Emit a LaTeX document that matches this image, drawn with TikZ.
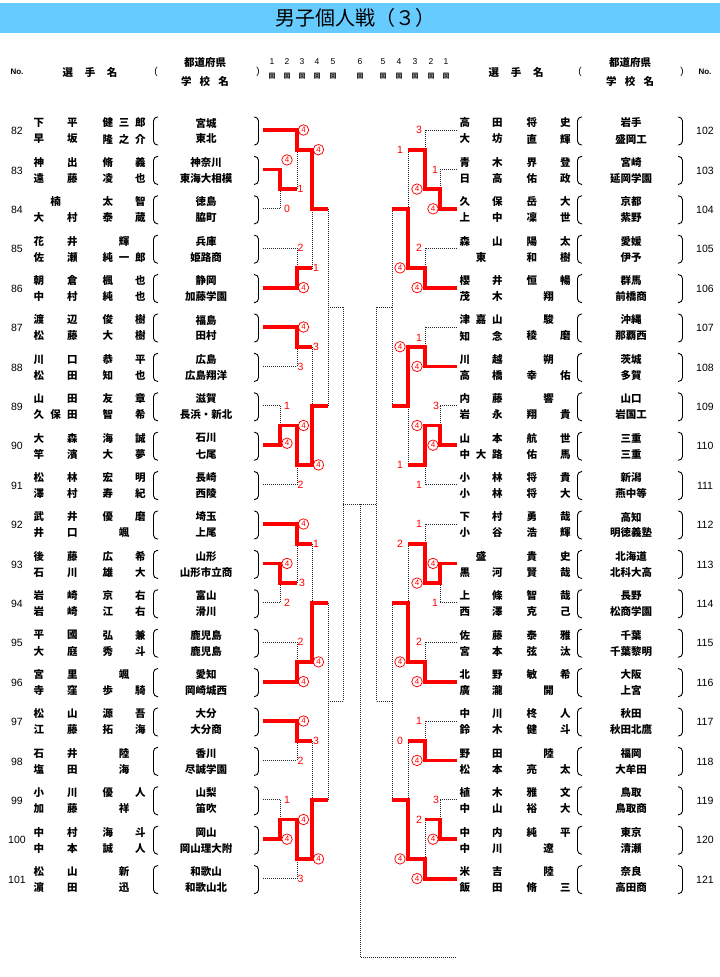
\documentclass[tikz,border=0pt]{standalone}
\usepackage{fontspec}
\setmainfont{Liberation Sans}
\newfontfamily\jp{Noto Sans CJK JP}
\definecolor{titleblue}{RGB}{102,204,255}
\newcount\labcnt
\tikzset{
  rl/.style={draw=red, line width=3.8pt, line join=miter},
  dl/.style={draw=black!85, line width=0.8pt, dash pattern=on 0.9pt off 1.1pt},
  nm/.style={font=\jp\bfseries\fontsize{10.5}{12}\selectfont, inner sep=0pt},
  numf/.style={font=\fontsize{10.5}{12}\selectfont, inner sep=0pt},
  scd/.style={text=red, font=\fontsize{10.5}{11}\selectfont, inner sep=0pt},
  scw/.style={circle, draw=red, line width=0.75pt, text=red, inner sep=0pt,
    minimum size=10.5pt, font=\fontsize{8}{8}\selectfont},
  paren/.style={draw=black, line width=0.9pt, rounded corners=4pt},
  hdr/.style={font=\fontsize{10}{11}\selectfont, inner sep=0pt},
  rn/.style={font=\fontsize{8.5}{9}\selectfont, inner sep=0pt},
  rk/.style={font=\jp\bfseries\fontsize{6.5}{7}\selectfont, inner sep=0pt},
  hno/.style={font=\fontsize{8}{9}\selectfont\bfseries, inner sep=0pt}
}
\newcommand\Sd[3]{\global\advance\labcnt by 1\relax\node[scd] (lb\the\labcnt) at (#1,#2) {#3};}
\newcommand\Sw[2]{\global\advance\labcnt by 1\relax\node[scw] (lb\the\labcnt) at (#1,#2) {4};}
\newcommand\Lent[8]{%
 \pgfmathsetmacro\cy{131+39.4*#1}%
 \node[numf] (no#2) at (17,\cy) {#2};
 \node[nm,anchor=west] (sa#2) at (33.5,{\cy-8}) {\hbox to 44pt{#3}};
 \node[nm,anchor=west] (ga#2) at (102.5,{\cy-8}) {\hbox to 43pt{#4}};
 \node[nm,anchor=west] (sb#2) at (33.5,{\cy+8}) {\hbox to 44pt{#5}};
 \node[nm,anchor=west] (gb#2) at (102.5,{\cy+8}) {\hbox to 43pt{#6}};
 \node[nm] (pr#2) at (206,{\cy-8}) {#7};
 \node[nm] (sc#2) at (206,{\cy+8}) {#8};
 \draw[paren] (158,{\cy-14}) -- (153.5,{\cy-14}) -- (153.5,{\cy+14}) -- (158,{\cy+14});
 \draw[paren] (254,{\cy-14}) -- (258.5,{\cy-14}) -- (258.5,{\cy+14}) -- (254,{\cy+14});
}
\newcommand\Rent[8]{%
 \pgfmathsetmacro\cy{131+39.4*#1}%
 \node[numf] (no#2) at (705,\cy) {#2};
 \node[nm,anchor=west] (sa#2) at (459.5,{\cy-8}) {\hbox to 43pt{#3}};
 \node[nm,anchor=west] (ga#2) at (526.5,{\cy-8}) {\hbox to 44pt{#4}};
 \node[nm,anchor=west] (sb#2) at (459.5,{\cy+8}) {\hbox to 43pt{#5}};
 \node[nm,anchor=west] (gb#2) at (526.5,{\cy+8}) {\hbox to 44pt{#6}};
 \node[nm] (pr#2) at (631,{\cy-8}) {#7};
 \node[nm] (sc#2) at (631,{\cy+8}) {#8};
 \draw[paren] (582,{\cy-14}) -- (577.5,{\cy-14}) -- (577.5,{\cy+14}) -- (582,{\cy+14});
 \draw[paren] (678,{\cy-14}) -- (682.5,{\cy-14}) -- (682.5,{\cy+14}) -- (678,{\cy+14});
}
\begin{document}
\begin{tikzpicture}[x=1pt,y=-1pt]
\fill[white] (0,0) rectangle (720,977);
\path[use as bounding box] (0,0) rectangle (720,977);
% title
\fill[titleblue] (0,3) rectangle (720,33);
\node[font=\jp\fontsize{20}{22}\selectfont, inner sep=0pt] (ttl) at (355,18) {男子個人戦（３）};
% header
\node[hno] (hnoL) at (17,72) {No.};
\node[nm] (hselL) at (90,72) {\hbox to 55pt{選\hfill 手\hfill 名}};
\node[hdr] (hlpL) at (156,72) {(};
\node[nm] (hprefL) at (205,63) {都道府県};
\node[nm] (hschL) at (205,81) {\hbox to 48pt{学\hfill 校\hfill 名}};
\node[hdr] (hrpL) at (258,72) {)};
\node[nm] (hselR) at (516,72) {\hbox to 55pt{選\hfill 手\hfill 名}};
\node[hdr] (hlpR) at (580,72) {(};
\node[nm] (hprefR) at (630,63) {都道府県};
\node[nm] (hschR) at (630,81) {\hbox to 48pt{学\hfill 校\hfill 名}};
\node[hdr] (hrpR) at (682,72) {)};
\node[hno] (hnoR) at (705,72) {No.};
\foreach \x/\n [count=\k] in {272/1,287/2,302/3,317/4,333/5,360/6,383/5,399/4,415/3,431/2,446/1}{
  \node[rn] (rn\k) at (\x,62) {\n};
  \node[rk] (rk\k) at (\x,76) {回};
}
% left entries
\Lent{0}{82}{下\hfill 平}{健\hfill 三\hfill 郎}{早\hfill 坂}{隆\hfill 之\hfill 介}{宮城}{東北}
\Lent{1}{83}{神\hfill 出}{脩\hfill 義}{遠\hfill 藤}{凌\hfill 也}{神奈川}{東海大相模}
\Lent{2}{84}{\hfill 楠\hfill}{太\hfill 智}{大\hfill 村}{泰\hfill 蔵}{徳島}{脇町}
\Lent{3}{85}{花\hfill 井}{\hfill 輝\hfill}{佐\hfill 瀬}{純\hfill 一\hfill 郎}{兵庫}{姫路商}
\Lent{4}{86}{朝\hfill 倉}{楓\hfill 也}{中\hfill 村}{純\hfill 也}{静岡}{加藤学園}
\Lent{5}{87}{渡\hfill 辺}{俊\hfill 樹}{松\hfill 藤}{大\hfill 樹}{福島}{田村}
\Lent{6}{88}{川\hfill 口}{恭\hfill 平}{松\hfill 田}{知\hfill 也}{広島}{広島翔洋}
\Lent{7}{89}{山\hfill 田}{友\hfill 章}{久\hfill 保\hfill 田}{智\hfill 希}{滋賀}{長浜・新北}
\Lent{8}{90}{大\hfill 森}{海\hfill 誠}{竿\hfill 濱}{大\hfill 夢}{石川}{七尾}
\Lent{9}{91}{松\hfill 林}{宏\hfill 明}{澤\hfill 村}{寿\hfill 紀}{長崎}{西陵}
\Lent{10}{92}{武\hfill 井}{優\hfill 磨}{井\hfill 口}{\hfill 颯\hfill}{埼玉}{上尾}
\Lent{11}{93}{後\hfill 藤}{広\hfill 希}{石\hfill 川}{雄\hfill 大}{山形}{山形市立商}
\Lent{12}{94}{岩\hfill 崎}{京\hfill 右}{岩\hfill 崎}{江\hfill 右}{富山}{滑川}
\Lent{13}{95}{平\hfill 國}{弘\hfill 兼}{大\hfill 庭}{秀\hfill 斗}{鹿児島}{鹿児島}
\Lent{14}{96}{宮\hfill 里}{\hfill 颯\hfill}{寺\hfill 窪}{歩\hfill 騎}{愛知}{岡崎城西}
\Lent{15}{97}{松\hfill 山}{源\hfill 吾}{江\hfill 藤}{拓\hfill 海}{大分}{大分商}
\Lent{16}{98}{石\hfill 井}{\hfill 陸\hfill}{塩\hfill 田}{\hfill 海\hfill}{香川}{尽誠学園}
\Lent{17}{99}{小\hfill 川}{優\hfill 人}{加\hfill 藤}{\hfill 祥\hfill}{山梨}{笛吹}
\Lent{18}{100}{中\hfill 村}{海\hfill 斗}{中\hfill 本}{誠\hfill 人}{岡山}{岡山理大附}
\Lent{19}{101}{松\hfill 山}{\hfill 新\hfill}{濵\hfill 田}{\hfill 迅\hfill}{和歌山}{和歌山北}
% right entries
\Rent{0}{102}{高\hfill 田}{将\hfill 史}{大\hfill 坊}{直\hfill 輝}{岩手}{盛岡工}
\Rent{1}{103}{青\hfill 木}{界\hfill 登}{日\hfill 高}{佑\hfill 政}{宮崎}{延岡学園}
\Rent{2}{104}{久\hfill 保}{岳\hfill 大}{上\hfill 中}{凜\hfill 世}{京都}{紫野}
\Rent{3}{105}{森\hfill 山}{陽\hfill 太}{\hfill 東\hfill}{和\hfill 樹}{愛媛}{伊予}
\Rent{4}{106}{櫻\hfill 井}{恒\hfill 暢}{茂\hfill 木}{\hfill 翔\hfill}{群馬}{前橋商}
\Rent{5}{107}{津\hfill 嘉\hfill 山}{\hfill 駿\hfill}{知\hfill 念}{稜\hfill 磨}{沖縄}{那覇西}
\Rent{6}{108}{川\hfill 越}{\hfill 朔\hfill}{高\hfill 橋}{幸\hfill 佑}{茨城}{多賀}
\Rent{7}{109}{内\hfill 藤}{\hfill 響\hfill}{岩\hfill 永}{翔\hfill 貴}{山口}{岩国工}
\Rent{8}{110}{山\hfill 本}{航\hfill 世}{中\hfill 大\hfill 路}{佑\hfill 馬}{三重}{三重}
\Rent{9}{111}{小\hfill 林}{将\hfill 貴}{小\hfill 林}{将\hfill 大}{新潟}{燕中等}
\Rent{10}{112}{下\hfill 村}{勇\hfill 哉}{小\hfill 谷}{浩\hfill 輝}{高知}{明徳義塾}
\Rent{11}{113}{\hfill 盛\hfill}{貴\hfill 史}{黒\hfill 河}{賢\hfill 哉}{北海道}{北科大高}
\Rent{12}{114}{上\hfill 條}{智\hfill 哉}{西\hfill 澤}{克\hfill 己}{長野}{松商学園}
\Rent{13}{115}{佐\hfill 藤}{泰\hfill 雅}{宮\hfill 本}{弦\hfill 汰}{千葉}{千葉黎明}
\Rent{14}{116}{北\hfill 野}{敏\hfill 希}{廣\hfill 瀧}{\hfill 開\hfill}{大阪}{上宮}
\Rent{15}{117}{中\hfill 川}{柊\hfill 人}{鈴\hfill 木}{健\hfill 斗}{秋田}{秋田北鷹}
\Rent{16}{118}{野\hfill 田}{\hfill 陸\hfill}{松\hfill 本}{亮\hfill 太}{福岡}{大牟田}
\Rent{17}{119}{植\hfill 木}{雅\hfill 文}{中\hfill 山}{裕\hfill 大}{鳥取}{鳥取商}
\Rent{18}{120}{中\hfill 内}{純\hfill 平}{中\hfill 川}{\hfill 遼\hfill}{東京}{清瀬}
\Rent{19}{121}{米\hfill 吉}{\hfill 陸\hfill}{飯\hfill 田}{脩\hfill 三}{奈良}{高田商}
% bracket
\begin{scope}[y=-39.4pt, yshift=-130pt]
 \foreach \xa/\xb/\xc/\xd/\xe/\xf in {263/280/297/312/328/343, 457/440/425/408/392/376}{
   \foreach \i in {1,2,7,8,11,12,17,18} \draw[dl] (\xa,\i) -- (\xb,\i);
   \foreach \i in {0,3,4,5,6,9,10,13,14,15,16,19} \draw[dl] (\xa,\i) -- (\xc,\i);
   \foreach \a/\b/\m in {1/2/1.5,7/8/7.5,11/12/11.5,17/18/17.5}
     \draw[dl] (\xb,\a) -- (\xb,\b) (\xb,\m) -- (\xc,\m);
   \foreach \a/\b/\m in {0/1.5/0.5,3/4/3.5,5/6/5.5,7.5/9/8.5,10/11.5/10.5,13/14/13.5,15/16/15.5,17.5/19/18.5}
     \draw[dl] (\xc,\a) -- (\xc,\b) (\xc,\m) -- (\xd,\m);
   \foreach \a/\b/\m in {0.5/3.5/2,5.5/8.5/7,10.5/13.5/12,15.5/18.5/17}
     \draw[dl] (\xd,\a) -- (\xd,\b) (\xd,\m) -- (\xe,\m);
   \foreach \a/\b/\m in {2/7/4.5,12/17/14.5}
     \draw[dl] (\xe,\a) -- (\xe,\b) (\xe,\m) -- (\xf,\m);
   \draw[dl] (\xf,4.5) -- (\xf,14.5) (\xf,9.5) -- (360,9.5);
 }
 \draw[dl] (360,9.5) -- (360,21) -- (455,21);
 % red winner paths, left
 \draw[rl] (263,0) -- (297,0) -- (297,0.5) -- (312,0.5) -- (312,2) -- (328,2);
 \draw[rl] (263,1) -- (280,1) -- (280,1.5) -- (297,1.5);
 \draw[rl] (263,4) -- (297,4) -- (297,3.5) -- (312,3.5);
 \draw[rl] (263,5) -- (297,5) -- (297,5.5) -- (312,5.5);
 \draw[rl] (263,8) -- (280,8) -- (280,7.5) -- (297,7.5) -- (297,8.5) -- (312,8.5) -- (312,7) -- (328,7);
 \draw[rl] (263,10) -- (297,10) -- (297,10.5) -- (312,10.5);
 \draw[rl] (263,11) -- (280,11) -- (280,11.5) -- (297,11.5);
 \draw[rl] (263,14) -- (297,14) -- (297,13.5) -- (312,13.5) -- (312,12) -- (328,12);
 \draw[rl] (263,15) -- (297,15) -- (297,15.5) -- (312,15.5);
 \draw[rl] (263,18) -- (280,18) -- (280,17.5) -- (297,17.5) -- (297,18.5) -- (312,18.5) -- (312,17) -- (328,17);
 % red winner paths, right
 \draw[rl] (457,2) -- (440,2) -- (440,1.5) -- (425,1.5) -- (425,0.5) -- (408,0.5);
 \draw[rl] (457,4) -- (425,4) -- (425,3.5) -- (408,3.5) -- (408,2) -- (392,2);
 \draw[rl] (457,6) -- (425,6) -- (425,5.5) -- (408,5.5) -- (408,7) -- (392,7);
 \draw[rl] (457,8) -- (440,8) -- (440,7.5) -- (425,7.5) -- (425,8.5) -- (408,8.5);
 \draw[rl] (457,11) -- (440,11) -- (440,11.5) -- (425,11.5) -- (425,10.5) -- (408,10.5);
 \draw[rl] (457,14) -- (425,14) -- (425,13.5) -- (408,13.5) -- (408,12) -- (392,12);
 \draw[rl] (457,16) -- (425,16) -- (425,15.5) -- (408,15.5);
 \draw[rl] (457,18) -- (440,18) -- (440,17.5) -- (425,17.5);
 \draw[rl] (457,19) -- (425,19) -- (425,18.5) -- (408,18.5) -- (408,17) -- (392,17);
 % scores left R1
 \Sw{287}{0.76} \Sd{287}{2}{0}
 \Sd{287}{7}{1} \Sw{287}{7.95}
 \Sw{287}{11} \Sd{287}{12}{2}
 \Sd{287}{17}{1} \Sw{287}{18}
 % left R2
 \Sw{303.5}{0} \Sd{300.5}{1.5}{1}
 \Sd{300.5}{3}{2} \Sw{303.5}{4}
 \Sw{303.5}{5} \Sd{300.5}{6}{3}
 \Sw{303.5}{7.5} \Sd{300.5}{9}{2}
 \Sw{303.5}{10} \Sd{302}{11.5}{3}
 \Sd{300.5}{13}{2} \Sw{303.5}{14}
 \Sw{303.5}{15} \Sd{300.5}{16}{2}
 \Sw{303.5}{17.5} \Sd{300.5}{19}{3}
 % left R3
 \Sw{318.5}{0.5} \Sd{316}{3.5}{1}
 \Sd{316}{5.5}{3} \Sw{318.5}{8.5}
 \Sd{316}{10.5}{1} \Sw{318.5}{13.5}
 \Sd{316}{15.5}{3} \Sw{318.5}{18.5}
 % right R1
 \Sd{435}{1}{1} \Sw{433}{2}
 \Sd{436}{7}{3} \Sw{433}{8}
 \Sw{433}{11} \Sd{435}{12}{1}
 \Sd{436}{17}{3} \Sw{433}{18}
 % right R2
 \Sd{419}{0}{3} \Sw{417}{1.5}
 \Sd{419}{3}{2} \Sw{417}{4}
 \Sd{419}{5.28}{1} \Sw{417}{6}
 \Sw{417}{7.5} \Sd{419}{9}{1}
 \Sd{419}{10}{1} \Sw{417}{11.5}
 \Sd{419}{13}{2} \Sw{417}{14}
 \Sd{419}{15}{1} \Sw{417}{16}
 \Sd{419}{17.5}{2} \Sw{417}{19}
 % right R3
 \Sd{400}{0.5}{1} \Sw{400}{3.5}
 \Sw{400}{5.5} \Sd{400}{8.5}{1}
 \Sd{400}{10.5}{2} \Sw{400}{13.5}
 \Sd{400}{15.5}{0} \Sw{400}{18.5}
\end{scope}
\end{tikzpicture}
\end{document}
